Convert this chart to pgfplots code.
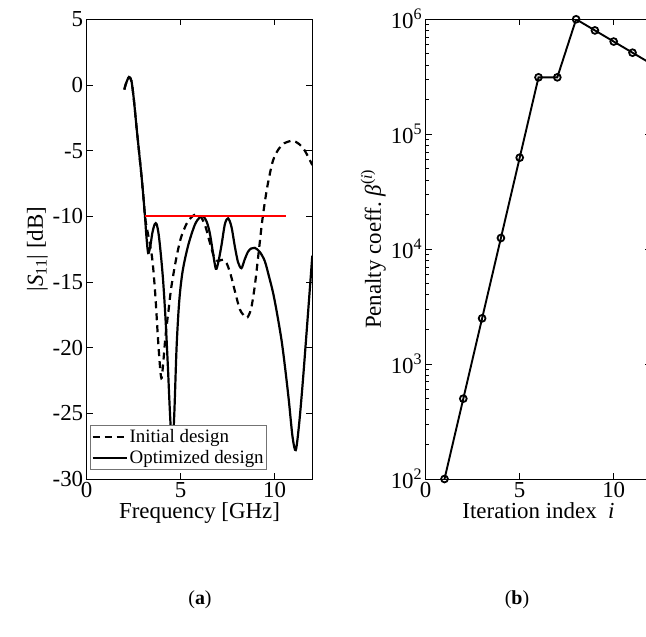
\documentclass[border=0pt]{standalone}
\usepackage{fontspec}
\setmainfont{Liberation Serif}
\usepackage{pgfplots}
\pgfplotsset{compat=1.18}
\begin{document}
\begin{tikzpicture}[x=1bp,y=1bp]
\pgfplotsset{
  mystyle/.style={
    scale only axis, anchor=south west,
    tick align=inside, major tick length=6bp, minor tick length=3.5bp,
    axis line style={line width=0.8bp}, every tick/.style={line width=0.8bp, black},
    ticklabel style={font=\fontsize{23}{27}\selectfont, /pgf/number format/assume math mode=true},
    label style={font=\fontsize{23}{27}\selectfont},
  }
}
\begin{axis}[mystyle,
  at={(86.7bp,158bp)}, width=225.6bp, height=459.7bp,
  xmin=0, xmax=12, ymin=-30, ymax=5,
  xtick={0,5,10}, ytick={-30,-25,-20,-15,-10,-5,0,5},
  xlabel={Frequency [GHz]},
  ylabel={|\textit{S}\textsubscript{11}| [dB]},
  xlabel style={yshift=2bp},
  ylabel style={yshift=-2bp},
  legend style={at={(0.015,0.02)}, anchor=south west, draw=black!55, line width=0.7bp,
    font=\fontsize{19}{22}\selectfont, inner xsep=1bp, inner ysep=2.5bp, row sep=2bp,
    cells={anchor=west}, fill=white},
  legend image code/.code={\draw[#1] (0bp,0bp) -- (34bp,0bp);},
]
\addplot[black, line width=2.2bp, dash pattern=on 7bp off 5bp, smooth, tension=0.5] coordinates {
(2.0,-0.35) (2.1,0.15) (2.25,0.6) (2.38,0.3) (2.5,-1.0) (2.65,-3.2) (2.8,-5.3) (2.92,-7.0) (3.02,-8.6) (3.1,-10.0)
(3.2,-10.9) (3.35,-12.0) (3.5,-13.4) (3.65,-16.0) (3.8,-19.5) (3.92,-21.8) (3.99,-22.3) (4.08,-21.0) (4.2,-19.0)
(4.35,-17.2) (4.5,-15.4) (4.75,-13.3) (5.0,-11.7) (5.3,-10.6) (5.55,-10.1) (5.8,-9.85) (6.05,-10.0) (6.3,-10.7)
(6.55,-12.0) (6.8,-13.2) (7.0,-13.4) (7.25,-13.3) (7.45,-13.6) (7.65,-14.4) (7.9,-15.8) (8.15,-17.1) (8.4,-17.6)
(8.55,-17.7) (8.75,-17.0) (8.95,-15.2) (9.15,-12.7) (9.35,-10.2) (9.6,-7.8) (9.9,-5.8) (10.2,-4.9) (10.5,-4.45)
(10.95,-4.25) (11.3,-4.5) (11.6,-5.0) (12.0,-6.1)
};
\addlegendentry{Initial design}
\addplot[black, line width=2.2bp, smooth, tension=0.5] coordinates {
(2.0,-0.35) (2.1,0.15) (2.25,0.6) (2.38,0.3) (2.5,-1.0) (2.65,-3.2) (2.8,-5.3) (2.92,-7.0) (3.02,-8.6) (3.1,-10.0)
(3.18,-11.6) (3.27,-12.8) (3.38,-12.3) (3.5,-11.2) (3.62,-10.6) (3.72,-10.6) (3.83,-11.4) (3.95,-13.0) (4.07,-15.0)
(4.2,-18.0) (4.32,-21.5) (4.43,-25.0) (4.55,-27.8) (4.66,-25.0) (4.78,-20.0) (4.92,-16.5) (5.1,-14.2) (5.4,-12.2)
(5.75,-10.65) (6.0,-10.1) (6.19,-10.0) (6.38,-10.4) (6.55,-11.3) (6.72,-12.8) (6.87,-14.0) (7.0,-13.5) (7.17,-12.2)
(7.35,-10.6) (7.52,-10.15) (7.7,-10.8) (7.88,-12.3) (8.05,-13.5) (8.23,-13.95) (8.4,-13.3) (8.58,-12.7) (8.75,-12.45)
(8.94,-12.4) (9.2,-12.7) (9.47,-13.4) (9.7,-14.6) (9.91,-15.8) (10.1,-17.2) (10.36,-19.4) (10.55,-21.5) (10.75,-24.0)
(10.95,-26.8) (11.12,-27.8) (11.3,-25.8) (11.5,-22.5) (11.75,-17.8) (12.0,-13.0)
};
\addlegendentry{Optimized design}
\addplot[red, line width=2bp, forget plot] coordinates {(3.1,-10) (10.62,-10)};
\end{axis}
\begin{axis}[mystyle,
  at={(425.7bp,158bp)}, width=225.6bp, height=459.7bp,
  xmin=0, xmax=12, ymode=log, ymin=100, ymax=1000000,
  xtick={0,5,10},
  ytick={100,1000,10000,100000,1000000},
  yticklabels={10\textsuperscript{2},10\textsuperscript{3},10\textsuperscript{4},10\textsuperscript{5},10\textsuperscript{6}},
  xlabel={Iteration index\ \ \textit{i}},
  ylabel={Penalty coeff.\ \textit{β}\textsuperscript{(\textit{i})}},
  xlabel style={yshift=2bp},
  ylabel style={yshift=-2bp},
]
\addplot[black, line width=1.9bp, mark=o, mark size=3.4bp, mark options={line width=1.8bp}] coordinates {
(1,100) (2,500) (3,2500) (4,12500) (5,62500) (6,312500) (7,312500) (8,1000000) (9,800000) (10,640000) (11,512000) (12,409600)
};
\end{axis}
\node[font=\fontsize{20}{24}\selectfont] at (200,37) {(\textbf{a})};
\node[font=\fontsize{20}{24}\selectfont] at (517,37) {(\textbf{b})};
\pgfresetboundingbox
\path[use as bounding box] (0,0) rectangle (646,637);
\end{tikzpicture}
\end{document}
